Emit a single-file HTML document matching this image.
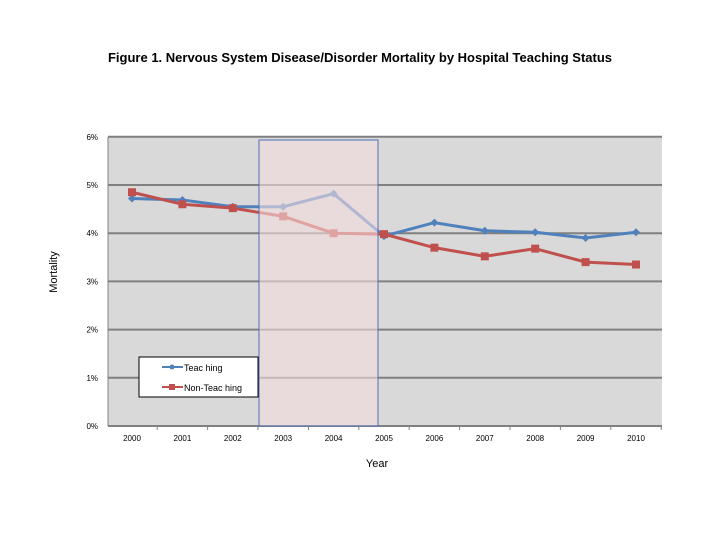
<!DOCTYPE html>
<html><head><meta charset="utf-8"><style>
body{margin:0;background:#fff;}
svg text{font-family:"Liberation Sans",sans-serif;}
</style></head><body>
<svg id="chart" width="720" height="540" xmlns="http://www.w3.org/2000/svg">
<text x="360" y="62" text-anchor="middle" font-size="13" font-weight="bold">Figure 1. Nervous System Disease/Disorder Mortality by Hospital Teaching Status</text>
<rect x="108" y="137" width="554" height="289" fill="#d9d9d9"/>
<g id="grid"></g>
<g id="series"></g>
<rect x="259" y="140" width="119" height="286" fill="#f4dcdc" fill-opacity="0.6" stroke="#4f6fb3" stroke-width="1"/>
<g id="axes"></g>
<text x="57" y="272" transform="rotate(-90 57 272)" text-anchor="middle" font-size="11">Mortality</text>
<text x="377" y="467" text-anchor="middle" font-size="11">Year</text>
<g>
<rect x="139" y="357" width="119" height="40" fill="#fff" stroke="#000" stroke-width="1"/>
<line x1="162" y1="367" x2="183" y2="367" stroke="#4f81bd" stroke-width="2"/>
<circle cx="172" cy="367" r="2.5" fill="#4f81bd"/>
<text x="184" y="371" font-size="9">Teac hing</text>
<line x1="162" y1="387" x2="183" y2="387" stroke="#c0504d" stroke-width="2"/>
<rect x="169" y="384" width="6" height="6" fill="#c0504d"/>
<text x="184" y="391" font-size="9">Non-Teac hing</text>
</g>
</svg>
<script>
const years=[2000,2001,2002,2003,2004,2005,2006,2007,2008,2009,2010];
const teaching=[4.72,4.69,4.55,4.55,4.82,3.94,4.22,4.05,4.02,3.90,4.02];
const nonTeaching=[4.85,4.60,4.52,4.35,4.00,3.98,3.70,3.52,3.68,3.40,3.35];
const yTicks=[0,1,2,3,4,5,6];
const NS="http://www.w3.org/2000/svg";
const xs=i=>132+i*50.4;
const ys=v=>426-v*48.2;
function mk(tag,attrs,parent){const e=document.createElementNS(NS,tag);for(const k in attrs)e.setAttribute(k,attrs[k]);parent.appendChild(e);return e;}
const grid=document.getElementById('grid'),axes=document.getElementById('axes'),ser=document.getElementById('series');
yTicks.forEach(t=>{
  const l=mk('line',{x1:108,x2:662,y1:ys(t),y2:ys(t),stroke:'#808080','stroke-width':2},grid);
  
  
  const tx=mk('text',{x:98,y:ys(t)+3,'text-anchor':'end','font-size':8},axes);
  tx.textContent=t+'%';
  
  
});
mk('line',{x1:108,x2:108,y1:137,y2:426,stroke:'#808080','stroke-width':1},axes);
years.forEach((y,i)=>{
  const tx=mk('text',{x:xs(i),y:441,'text-anchor':'middle','font-size':8},axes);
  tx.textContent=y;
  
  
  mk('line',{x1:xs(i)+25.2,x2:xs(i)+25.2,y1:426,y2:430,stroke:'#808080'},axes);
});
function drawSeries(vals,color,shape,name){
  const p=mk('polyline',{points:vals.map((v,i)=>xs(i)+','+ys(v)).join(' '),fill:'none',stroke:color,'stroke-width':3},ser);
  
  
  vals.forEach((v,i)=>{
    let m;
    if(shape==='sq') m=mk('rect',{x:xs(i)-4,y:ys(v)-4,width:8,height:8,fill:color},ser);
    else m=mk('path',{d:`M${xs(i)},${ys(v)-4}L${xs(i)+4},${ys(v)}L${xs(i)},${ys(v)+4}L${xs(i)-4},${ys(v)}Z`,fill:color},ser);
    
    
  });
}
drawSeries(teaching,'#4f81bd','dia','teaching');
drawSeries(nonTeaching,'#c0504d','sq','non-teaching');
</script>
</body></html>
